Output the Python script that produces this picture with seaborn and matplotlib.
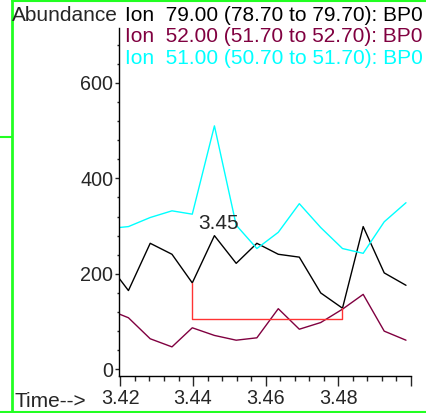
import numpy as np
import pandas as pd
import matplotlib
matplotlib.use('Agg')
import matplotlib.pyplot as plt
from matplotlib.lines import Line2D
from matplotlib.ticker import MultipleLocator
import seaborn as sns

# retention times (min) of the scans shown
times = [3.4196, 3.4222, 3.4282, 3.4342, 3.4398, 3.4459, 3.4519, 3.4576,
         3.4635, 3.4693, 3.4752, 3.4812, 3.4869, 3.4927, 3.4987]

# extracted ion abundances
ion79 = [191, 165, 264, 241, 181, 280, 222, 264, 241, 235, 160, 128, 299, 202, 176]
ion52 = [116, 108, 64, 47, 87, 71, 61, 66, 127, 84, 98, 126, 157, 80, 61]
ion51 = [297, 299, 318, 332, 325, 510, 302, 253, 287, 347, 297, 253, 243, 309, 349]

ion_labels = ['Ion  79.00 (78.70 to 79.70): BP0',
              'Ion  52.00 (51.70 to 52.70): BP0',
              'Ion  51.00 (50.70 to 51.70): BP0']
ion_colors = ['#000000', '#800040', '#00ffff']

# integration of the peak
peak_label = '3.45'
peak_time = 3.4470
peak_label_y = 293
baseline_level = 105
start_idx, end_idx = 4, 11

df = pd.DataFrame({'time': times, 'Ion 79': ion79, 'Ion 52': ion52, 'Ion 51': ion51})
long = df.melt(id_vars='time', var_name='ion', value_name='abundance')

sns.set_style('white')
plt.rcParams['font.family'] = ['Liberation Sans', 'DejaVu Sans']

fig = plt.figure(figsize=(4.26, 4.13), dpi=100)
ax = fig.add_axes([119 / 426, 37 / 413, 291.7 / 426, 348 / 413])

sns.lineplot(data=long, x='time', y='abundance', hue='ion',
             hue_order=['Ion 79', 'Ion 52', 'Ion 51'], palette=ion_colors,
             linewidth=1.0, legend=False, ax=ax)

# baseline drawn under the integrated peak
bx = [times[start_idx], times[start_idx], times[end_idx], times[end_idx]]
by = [ion79[start_idx], baseline_level, baseline_level, ion79[end_idx]]
ax.plot(bx, by, color='#ff3333', linewidth=1.0)

ax.text(peak_time, peak_label_y, peak_label, ha='center', va='baseline', fontsize=15)

ax.set_xlim(3.4196, 3.5)
ax.set_ylim(-14, 715)
ax.set_xticks([3.42, 3.44, 3.46, 3.48, 3.50])
ax.set_xticklabels(['3.42', '3.44', '3.46', '3.48', ''])
ax.xaxis.set_minor_locator(MultipleLocator(0.004))
ax.set_yticks([0, 200, 400, 600])
ax.yaxis.set_minor_locator(MultipleLocator(40))
ax.tick_params(axis='x', which='major', length=7.2, width=1, pad=2.5, labelsize=14.2, direction='out', bottom=True)
ax.tick_params(axis='x', which='minor', length=3.6, width=1, direction='out', bottom=True)
ax.tick_params(axis='y', which='major', length=3, width=1, pad=1, labelsize=14.2, direction='out', left=True)
ax.tick_params(axis='y', which='minor', length=1.5, width=1, direction='out', left=True)
ax.set_xlabel('')
ax.set_ylabel('')
for s in ['top', 'right']:
    ax.spines[s].set_visible(False)
for s in ['left', 'bottom']:
    ax.spines[s].set_color('black')
    ax.spines[s].set_linewidth(1)
ax.set_facecolor('white')

# header texts
fig.text(12 / 426, 1 - 21 / 413, 'Abundance', fontsize=15, va='baseline')
fig.text(14 / 426, 1 - 407 / 413, 'Time-->', fontsize=15, va='baseline')
for i, (lab, col) in enumerate(zip(ion_labels, ion_colors)):
    fig.text(125 / 426, 1 - (21 + 21.5 * i) / 413, lab, color=col, fontsize=15, va='baseline')

# green window frame
green = '#22ff22'
fig.add_artist(Line2D([11.5 / 426, 11.5 / 426], [0, 1], color=green, linewidth=2))
fig.add_artist(Line2D([11.5 / 426, 1], [1 - 0.8 / 413, 1 - 0.8 / 413], color=green, linewidth=1.5))
fig.add_artist(Line2D([0, 1], [1 - 411.5 / 413, 1 - 411.5 / 413], color=green, linewidth=1.5))
fig.add_artist(Line2D([0, 11.5 / 426], [1 - 137 / 413, 1 - 137 / 413], color=green, linewidth=1.5))

fig.savefig('out.png', dpi=100, facecolor='white')
